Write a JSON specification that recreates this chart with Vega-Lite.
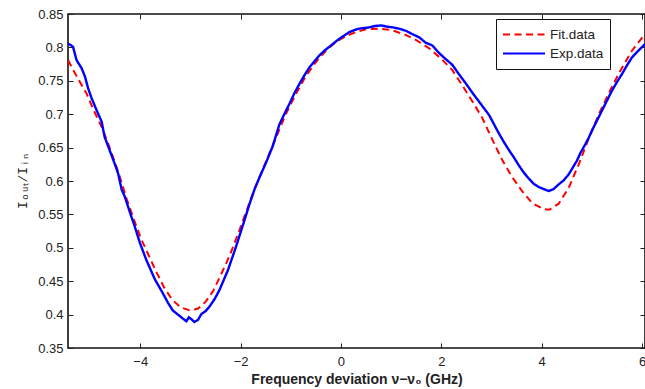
{
  "$schema": "https://vega.github.io/schema/vega-lite/v6.json",
  "width": 577,
  "height": 334,
  "autosize": {"type": "none"},
  "padding": {"left": 68, "top": 14, "right": 0, "bottom": 41},
  "background": "white",
  "config": {
    "view": {"stroke": "#111", "strokeWidth": 1.6},
    "axis": {
      "domain": false,
      "grid": false,
      "tickSize": -5,
      "tickColor": "#222",
      "tickWidth": 1,
      "labelFont": "Liberation Sans",
      "labelFontSize": 13,
      "labelColor": "#222"
    }
  },
  "datasets": {
    "fit": [
      {"x": -5.44, "y": 0.781}, {"x": -5.27, "y": 0.757}, {"x": -5.07, "y": 0.731}, {"x": -4.94, "y": 0.708},
      {"x": -4.77, "y": 0.681}, {"x": -4.61, "y": 0.65}, {"x": -4.44, "y": 0.614}, {"x": -4.27, "y": 0.573},
      {"x": -4.12, "y": 0.541}, {"x": -3.98, "y": 0.513}, {"x": -3.84, "y": 0.49}, {"x": -3.68, "y": 0.464},
      {"x": -3.52, "y": 0.44}, {"x": -3.36, "y": 0.422}, {"x": -3.2, "y": 0.411}, {"x": -3.0, "y": 0.406},
      {"x": -2.85, "y": 0.409}, {"x": -2.7, "y": 0.419}, {"x": -2.55, "y": 0.435}, {"x": -2.39, "y": 0.46},
      {"x": -2.22, "y": 0.488}, {"x": -2.02, "y": 0.527}, {"x": -1.86, "y": 0.56}, {"x": -1.7, "y": 0.592},
      {"x": -1.5, "y": 0.628}, {"x": -1.3, "y": 0.664}, {"x": -1.1, "y": 0.7}, {"x": -0.9, "y": 0.73},
      {"x": -0.7, "y": 0.757}, {"x": -0.5, "y": 0.778}, {"x": -0.3, "y": 0.795}, {"x": -0.1, "y": 0.808},
      {"x": 0.1, "y": 0.817}, {"x": 0.3, "y": 0.823}, {"x": 0.5, "y": 0.827}, {"x": 0.75, "y": 0.828},
      {"x": 1.0, "y": 0.826}, {"x": 1.25, "y": 0.82}, {"x": 1.5, "y": 0.811}, {"x": 1.75, "y": 0.799},
      {"x": 2.0, "y": 0.783}, {"x": 2.22, "y": 0.766}, {"x": 2.42, "y": 0.743}, {"x": 2.62, "y": 0.719},
      {"x": 2.82, "y": 0.694}, {"x": 3.01, "y": 0.663}, {"x": 3.21, "y": 0.632}, {"x": 3.41, "y": 0.606},
      {"x": 3.61, "y": 0.585}, {"x": 3.81, "y": 0.567}, {"x": 4.04, "y": 0.558}, {"x": 4.15, "y": 0.557},
      {"x": 4.34, "y": 0.566}, {"x": 4.54, "y": 0.59}, {"x": 4.74, "y": 0.625}, {"x": 4.94, "y": 0.664},
      {"x": 5.14, "y": 0.7}, {"x": 5.33, "y": 0.73}, {"x": 5.53, "y": 0.76}, {"x": 5.8, "y": 0.795},
      {"x": 6.06, "y": 0.82}
    ],
    "exp": [
      {"x": -5.44, "y": 0.806}, {"x": -5.34, "y": 0.801}, {"x": -5.27, "y": 0.781}, {"x": -5.17, "y": 0.769},
      {"x": -5.1, "y": 0.756}, {"x": -5.04, "y": 0.739}, {"x": -4.97, "y": 0.724}, {"x": -4.87, "y": 0.706},
      {"x": -4.77, "y": 0.689}, {"x": -4.71, "y": 0.666}, {"x": -4.61, "y": 0.646}, {"x": -4.51, "y": 0.626},
      {"x": -4.44, "y": 0.611}, {"x": -4.37, "y": 0.587}, {"x": -4.31, "y": 0.577}, {"x": -4.21, "y": 0.554},
      {"x": -4.11, "y": 0.532}, {"x": -4.01, "y": 0.508}, {"x": -3.88, "y": 0.482}, {"x": -3.71, "y": 0.453},
      {"x": -3.55, "y": 0.432}, {"x": -3.45, "y": 0.418}, {"x": -3.35, "y": 0.406}, {"x": -3.25, "y": 0.4},
      {"x": -3.15, "y": 0.394}, {"x": -3.08, "y": 0.39}, {"x": -3.03, "y": 0.396}, {"x": -2.98, "y": 0.393},
      {"x": -2.92, "y": 0.389}, {"x": -2.85, "y": 0.392}, {"x": -2.78, "y": 0.401}, {"x": -2.7, "y": 0.405},
      {"x": -2.62, "y": 0.412}, {"x": -2.52, "y": 0.423}, {"x": -2.42, "y": 0.437}, {"x": -2.25, "y": 0.467},
      {"x": -2.09, "y": 0.502}, {"x": -1.92, "y": 0.542}, {"x": -1.82, "y": 0.566}, {"x": -1.72, "y": 0.588},
      {"x": -1.62, "y": 0.606}, {"x": -1.49, "y": 0.628}, {"x": -1.36, "y": 0.652}, {"x": -1.23, "y": 0.684},
      {"x": -1.13, "y": 0.7}, {"x": -1.03, "y": 0.715}, {"x": -0.93, "y": 0.731}, {"x": -0.83, "y": 0.745},
      {"x": -0.73, "y": 0.758}, {"x": -0.63, "y": 0.77}, {"x": -0.53, "y": 0.779}, {"x": -0.43, "y": 0.788},
      {"x": -0.33, "y": 0.795}, {"x": -0.23, "y": 0.801}, {"x": -0.13, "y": 0.807}, {"x": -0.03, "y": 0.813},
      {"x": 0.07, "y": 0.818}, {"x": 0.17, "y": 0.823}, {"x": 0.27, "y": 0.826}, {"x": 0.36, "y": 0.828},
      {"x": 0.46, "y": 0.829}, {"x": 0.56, "y": 0.83}, {"x": 0.68, "y": 0.832}, {"x": 0.8, "y": 0.833},
      {"x": 0.92, "y": 0.831}, {"x": 1.03, "y": 0.83}, {"x": 1.16, "y": 0.828}, {"x": 1.29, "y": 0.825},
      {"x": 1.42, "y": 0.82}, {"x": 1.56, "y": 0.815}, {"x": 1.69, "y": 0.807}, {"x": 1.82, "y": 0.803},
      {"x": 1.95, "y": 0.792}, {"x": 2.08, "y": 0.783}, {"x": 2.22, "y": 0.774}, {"x": 2.35, "y": 0.76},
      {"x": 2.49, "y": 0.746}, {"x": 2.62, "y": 0.732}, {"x": 2.75, "y": 0.719}, {"x": 2.85, "y": 0.709},
      {"x": 2.95, "y": 0.699}, {"x": 3.05, "y": 0.685}, {"x": 3.15, "y": 0.671}, {"x": 3.25, "y": 0.658},
      {"x": 3.35, "y": 0.646}, {"x": 3.45, "y": 0.635}, {"x": 3.54, "y": 0.624}, {"x": 3.64, "y": 0.613},
      {"x": 3.74, "y": 0.604}, {"x": 3.84, "y": 0.596}, {"x": 3.94, "y": 0.591}, {"x": 4.04, "y": 0.588},
      {"x": 4.14, "y": 0.585}, {"x": 4.24, "y": 0.588}, {"x": 4.34, "y": 0.595}, {"x": 4.44, "y": 0.601},
      {"x": 4.54, "y": 0.61}, {"x": 4.62, "y": 0.62}, {"x": 4.7, "y": 0.63}, {"x": 4.78, "y": 0.643},
      {"x": 4.87, "y": 0.655}, {"x": 4.94, "y": 0.665}, {"x": 5.0, "y": 0.675}, {"x": 5.1, "y": 0.69},
      {"x": 5.2, "y": 0.705}, {"x": 5.3, "y": 0.72}, {"x": 5.4, "y": 0.735}, {"x": 5.5, "y": 0.748},
      {"x": 5.6, "y": 0.76}, {"x": 5.7, "y": 0.773}, {"x": 5.8, "y": 0.785}, {"x": 5.9, "y": 0.793},
      {"x": 6.06, "y": 0.805}
    ]
  },
  "layer": [
    {
      "data": {"name": "fit"},
      "transform": [{"calculate": "'Fit.data'", "as": "series"}],
      "mark": {"type": "line", "strokeWidth": 2, "clip": true},
      "encoding": {
        "x": {
          "field": "x", "type": "quantitative",
          "scale": {"domain": [-5.44, 6.06], "nice": false, "zero": false},
          "axis": {"orient": "bottom", "values": [-4, -2, 0, 2, 4, 6], "labelPadding": 12,
                   "title": "Frequency deviation ν−ν₀  (GHz)", "titleFont": "Liberation Sans",
                   "titleFontWeight": "bold", "titleFontSize": 14, "titleColor": "#222", "titlePadding": 4}
        },
        "y": {
          "field": "y", "type": "quantitative",
          "scale": {"domain": [0.35, 0.85], "nice": false, "zero": false},
          "axis": {"orient": "left", "values": [0.35, 0.4, 0.45, 0.5, 0.55, 0.6, 0.65, 0.7, 0.75, 0.8, 0.85],
                   "format": "~g", "labelPadding": 10,
                   "title": "Iₒᵤₜ/Iᵢₙ", "titleFont": "Liberation Mono", "titleFontWeight": "normal",
                   "titleFontSize": 13, "titleColor": "#222", "titlePadding": 8}
        },
        "color": {
          "field": "series", "type": "nominal",
          "scale": {"domain": ["Fit.data", "Exp.data"], "range": ["#ff0000", "#0000ff"]},
          "legend": {
            "orient": "none", "legendX": 428, "legendY": 5, "title": null,
            "symbolType": "stroke", "symbolSize": 1764, "symbolStrokeWidth": 2,
            "clipHeight": 19, "rowPadding": 0, "padding": 6,
            "labelFont": "Liberation Sans", "labelFontSize": 13.5, "labelColor": "#222", "labelOffset": 4,
            "strokeColor": "#111", "fillColor": "white"
          }
        },
        "strokeDash": {
          "field": "series", "type": "nominal",
          "scale": {"domain": ["Fit.data", "Exp.data"], "range": [[7, 4.5], [1, 0]]},
          "legend": {
            "orient": "none", "legendX": 428, "legendY": 5, "title": null,
            "symbolType": "stroke", "symbolSize": 1764, "symbolStrokeWidth": 2,
            "clipHeight": 19, "rowPadding": 0, "padding": 6,
            "labelFont": "Liberation Sans", "labelFontSize": 13.5, "labelColor": "#222", "labelOffset": 4,
            "strokeColor": "#111", "fillColor": "white"
          }
        }
      }
    },
    {
      "data": {"name": "exp"},
      "transform": [{"calculate": "'Exp.data'", "as": "series"}],
      "mark": {"type": "line", "strokeWidth": 2.4, "clip": true},
      "encoding": {
        "x": {
          "field": "x", "type": "quantitative",
          "axis": {"orient": "top", "values": [-4, -2, 0, 2, 4, 6], "labels": false, "title": null}
        },
        "y": {
          "field": "y", "type": "quantitative",
          "axis": {"orient": "right", "values": [0.35, 0.4, 0.45, 0.5, 0.55, 0.6, 0.65, 0.7, 0.75, 0.8, 0.85],
                   "labels": false, "title": null}
        },
        "color": {"field": "series", "type": "nominal"},
        "strokeDash": {"field": "series", "type": "nominal"}
      }
    }
  ],
  "resolve": {"axis": {"x": "independent", "y": "independent"}}
}
